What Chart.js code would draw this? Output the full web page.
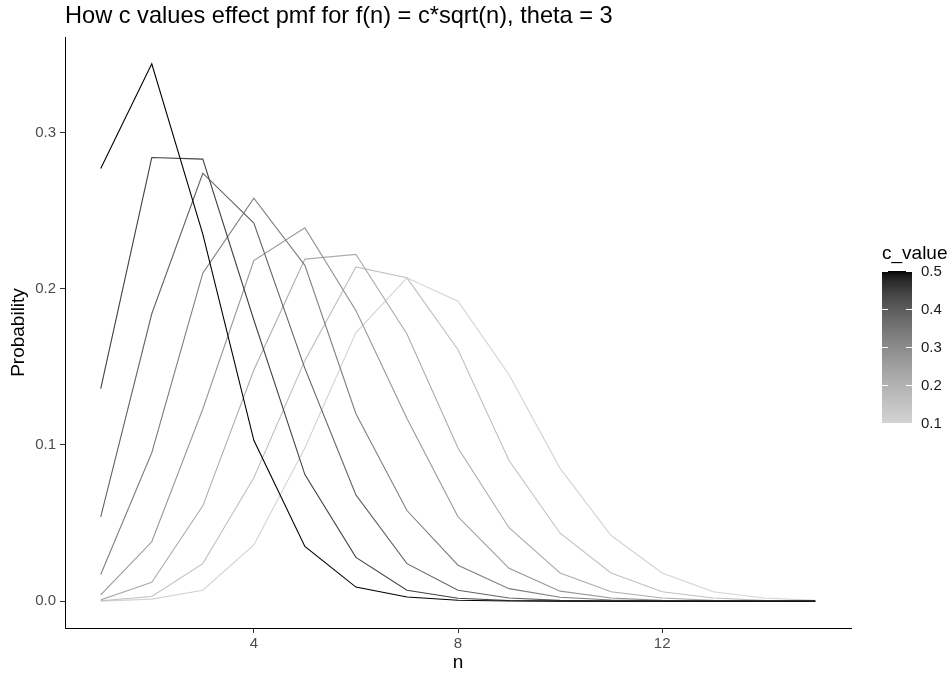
<!DOCTYPE html>
<html>
<head>
<meta charset="utf-8">
<script src="https://cdn.jsdelivr.net/npm/chart.js@4.4.1/dist/chart.umd.min.js"></script>
<style>
  html, body { margin: 0; padding: 0; background: #fff; }
  #wrap { width: 950px; height: 677px; }
</style>
</head>
<body>
<div id="wrap"><canvas id="chart" width="950" height="677"></canvas></div>
<script>
// values
const nValues = [1, 2, 3, 4, 5, 6, 7, 8, 9, 10, 11, 12, 13, 14, 15];
const cValues = [0.5, 0.443, 0.386, 0.329, 0.271, 0.214, 0.157, 0.1];

const probC1 = [0.277, 0.344, 0.235, 0.103, 0.035, 0.009, 0.0026, 0.0006, 0.0001, 0, 0, 0, 0, 0, 0];
const probC2 = [0.136, 0.284, 0.283, 0.180, 0.081, 0.028, 0.007, 0.0018, 0.0004, 0.0001, 0, 0, 0, 0, 0];
const probC3 = [0.054, 0.184, 0.274, 0.242, 0.149, 0.068, 0.024, 0.007, 0.002, 0.0005, 0.0001, 0, 0, 0, 0];
const probC4 = [0.017, 0.095, 0.210, 0.258, 0.215, 0.120, 0.058, 0.023, 0.008, 0.0025, 0.0007, 0.0002, 0, 0, 0];
const probC5 = [0.004, 0.038, 0.123, 0.218, 0.239, 0.186, 0.117, 0.054, 0.021, 0.0064, 0.002, 0.0005, 0.0001, 0, 0];
const probC6 = [0.0008, 0.012, 0.061, 0.148, 0.219, 0.222, 0.171, 0.098, 0.047, 0.018, 0.006, 0.002, 0.0005, 0.0001, 0];
const probC7 = [0.0002, 0.003, 0.024, 0.079, 0.154, 0.214, 0.207, 0.161, 0.090, 0.0435, 0.018, 0.006, 0.002, 0.0005, 0.0001];
const probC8 = [0, 0.0013, 0.007, 0.036, 0.098, 0.172, 0.207, 0.192, 0.145, 0.085, 0.042, 0.018, 0.006, 0.002, 0.0005];

const xTicks = [4, 8, 12];
const yTicks = [0, 0.1, 0.2, 0.3];
const legendBreaks = [0.1, 0.2, 0.3, 0.4, 0.5];

const series = [probC1, probC2, probC3, probC4, probC5, probC6, probC7, probC8];
const cMin = 0.1, cMax = 0.5;
const FONT = "'Liberation Sans', Arial, sans-serif";

// black for the largest c, light grey for the smallest
function greyFor(c) {
  const t = Math.max(0, Math.min(1, (cMax - c) / (cMax - cMin)));
  const g = Math.round(211 * Math.pow(t, 0.6));
  return `rgb(${g},${g},${g})`;
}

const datasets = series.map((vals, i) => ({
  label: String(cValues[i]),
  data: nValues.map((n, j) => ({x: n, y: vals[j]})),
  borderColor: greyFor(cValues[i]),
  borderWidth: 1.1,
  pointRadius: 0,
  tension: 0,
  fill: false
}));

const extras = {
  id: "extras",
  afterDraw(chart) {
    const ctx = chart.ctx;
    ctx.save();
    // title
    ctx.fillStyle = "#000";
    ctx.font = `23.6px ${FONT}`;
    ctx.textAlign = "left";
    ctx.textBaseline = "alphabetic";
    ctx.fillText("How c values effect pmf for f(n) = c*sqrt(n), theta = 3", 65, 23);

    // colour bar legend
    const barX = 882, barW = 30, barTop = 271, barBottom = 423;
    const grad = ctx.createLinearGradient(0, barBottom, 0, barTop);
    for (let k = 0; k <= 40; k++) {
      const c = cMin + (cMax - cMin) * k / 40;
      grad.addColorStop(k / 40, greyFor(c));
    }
    ctx.fillStyle = grad;
    ctx.fillRect(barX, barTop, barW, barBottom - barTop);

    ctx.font = `19px ${FONT}`;
    ctx.fillStyle = "#000";
    ctx.fillText("c_value", barX, 259);

    ctx.font = `15px ${FONT}`;
    ctx.textBaseline = "middle";
    ctx.strokeStyle = "#fff";
    ctx.lineWidth = 1;
    legendBreaks.forEach(b => {
      const y = barBottom - (b - cMin) / (cMax - cMin) * (barBottom - barTop);
      const yy = Math.round(y) + 0.5;
      ctx.beginPath();
      ctx.moveTo(barX, yy); ctx.lineTo(barX + 6, yy);
      ctx.moveTo(barX + barW - 6, yy); ctx.lineTo(barX + barW, yy);
      ctx.stroke();
      ctx.fillStyle = "#1a1a1a";
      ctx.fillText(b.toFixed(1), 921, y + 1);
    });
    ctx.restore();
  }
};

new Chart(document.getElementById("chart"), {
  type: "line",
  data: {datasets: datasets},
  options: {
    responsive: false,
    animation: false,
    layout: {padding: {left: 0, top: 37, right: 99, bottom: 0}},
    plugins: {legend: {display: false}, tooltip: {enabled: false}},
    scales: {
      x: {
        type: "linear",
        min: 0.3,
        max: 15.7,
        afterBuildTicks: (scale) => { scale.ticks = xTicks.map(v => ({value: v})); },
        afterFit: (scale) => { scale.height = 49; },
        grid: {drawOnChartArea: false, tickLength: 5, tickColor: "#333"},
        border: {display: true, color: "#000", width: 1},
        ticks: {color: "#4d4d4d", font: {family: FONT, size: 15}, padding: 2, maxRotation: 0},
        title: {display: true, text: "n", color: "#000", font: {family: FONT, size: 19}, padding: {top: 0, bottom: 3}}
      },
      y: {
        min: -0.0172,
        max: 0.3612,
        afterBuildTicks: (scale) => { scale.ticks = yTicks.map(v => ({value: v})); },
        afterFit: (scale) => { scale.width = 65; },
        grid: {drawOnChartArea: false, tickLength: 5, tickColor: "#333"},
        border: {display: true, color: "#000", width: 1},
        ticks: {color: "#4d4d4d", font: {family: FONT, size: 15}, padding: 4, callback: (v) => v.toFixed(1)},
        title: {display: true, text: "Probability", color: "#000", font: {family: FONT, size: 19}, padding: {top: 7, bottom: 0}}
      }
    }
  },
  plugins: [extras]
});
</script>
</body>
</html>
